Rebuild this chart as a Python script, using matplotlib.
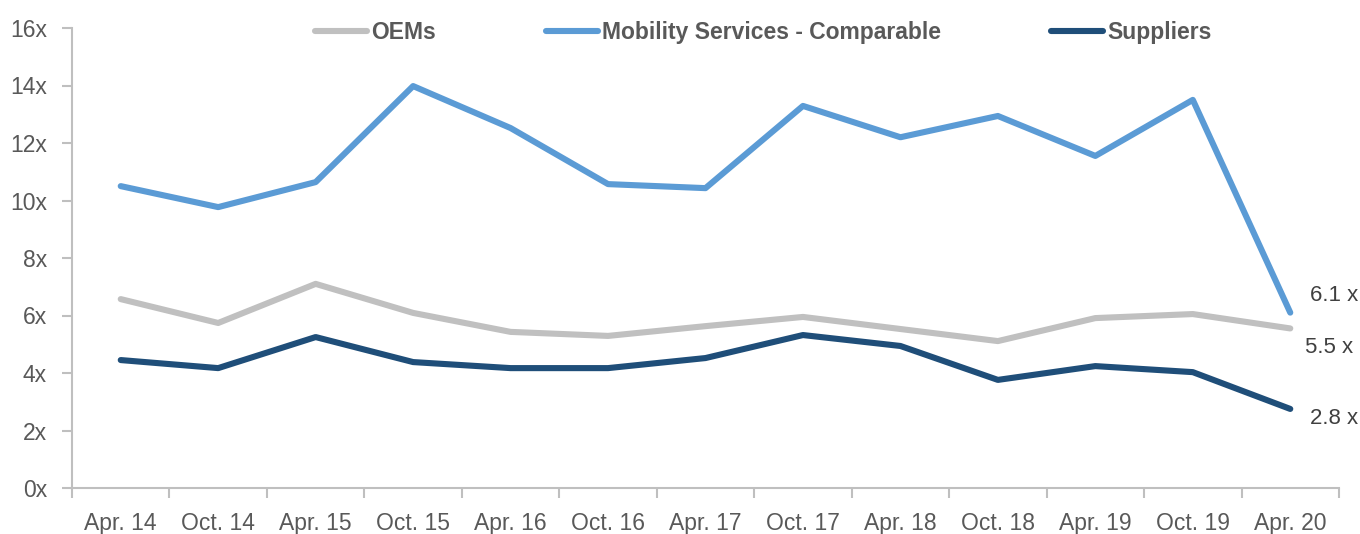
import numpy as np
import matplotlib
matplotlib.use("Agg")
import matplotlib.pyplot as plt
from matplotlib.ticker import FixedLocator, FuncFormatter

periods = ["Apr. 14", "Oct. 14", "Apr. 15", "Oct. 15", "Apr. 16", "Oct. 16", "Apr. 17",
           "Oct. 17", "Apr. 18", "Oct. 18", "Apr. 19", "Oct. 19", "Apr. 20"]
oems = [6.57, 5.74, 7.1, 6.09, 5.43, 5.29, 5.63, 5.95, 5.53, 5.11, 5.91, 6.05, 5.55]
mobility = [10.5, 9.77, 10.64, 13.98, 12.52, 10.57, 10.43, 13.29, 12.2, 12.94, 11.55, 13.5, 6.1]
suppliers = [4.45, 4.17, 5.25, 4.38, 4.17, 4.17, 4.52, 5.32, 4.94, 3.76, 4.24, 4.03, 2.75]
end_labels = ["5.5 x", "6.1 x", "2.8 x"]

plt.rcParams["font.family"] = ["Liberation Sans", "DejaVu Sans"]

fig = plt.figure(figsize=(13.6, 5.34), dpi=100)
ax = fig.add_axes([72 / 1360, 46 / 534, (1339 - 72) / 1360, 460 / 534])

x = np.arange(len(periods))
series = [("OEMs", oems, "#C0C0C0"),
          ("Mobility Services - Comparable", mobility, "#5B9BD5"),
          ("Suppliers", suppliers, "#1F4E79")]
lines = []
for name, vals, col in series:
    ln, = ax.plot(x, vals, color=col, lw=4.4, solid_capstyle="round",
                  solid_joinstyle="round", label=name)
    lines.append(ln)

# end-of-line value labels
offsets = [(15, -19), (20, 17), (20, -10)]
for (name, vals, col), lab, off in zip(series, end_labels, offsets):
    ax.annotate(lab, xy=(x[-1], vals[-1]), xytext=off, textcoords="offset pixels",
                ha="left", va="center", fontsize=16, color="#404040")

ax.set_xlim(-0.5, len(periods) - 0.5)
ax.set_ylim(0, 16)
ax.set_yticks(np.arange(0, 17, 2))
ax.yaxis.set_major_formatter(FuncFormatter(lambda v, p: f"{v:g}x"))

ax.xaxis.set_major_locator(FixedLocator(np.arange(-0.5, len(periods), 1)))
ax.xaxis.set_major_formatter(FuncFormatter(lambda v, p: ""))
ax.xaxis.set_minor_locator(FixedLocator(x))
ax.set_xticklabels(periods, minor=True)

for s in ["top", "right"]:
    ax.spines[s].set_visible(False)
for s in ["left", "bottom"]:
    ax.spines[s].set_color("#BFBFBF")
    ax.spines[s].set_linewidth(1.5)

ax.tick_params(axis="y", which="major", length=7, width=1.5, color="#BFBFBF",
               labelsize=16.5, labelcolor="#595959", pad=11)
ax.tick_params(axis="x", which="major", length=7, width=1.5, color="#BFBFBF")
ax.tick_params(axis="x", which="minor", length=0, labelsize=16.5,
               labelcolor="#595959", pad=17)

leg = fig.legend(handles=lines, loc="center", bbox_to_anchor=(0.561, 0.940), ncol=3,
                 frameon=False, handlelength=2.3, handletextpad=0.15, columnspacing=4.8,
                 prop={"weight": "bold", "size": 16.5})
for t in leg.get_texts():
    t.set_color("#595959")

fig.savefig("out.png", dpi=100)
